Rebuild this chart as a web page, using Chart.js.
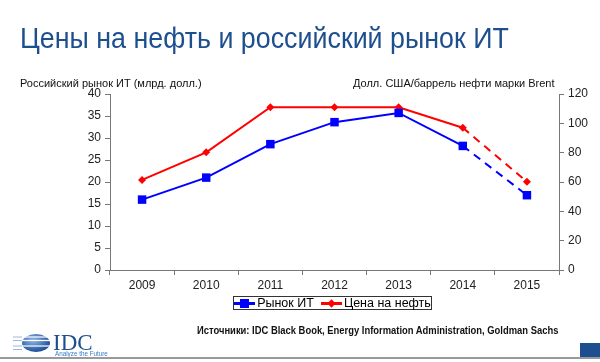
<!DOCTYPE html>
<html>
<head>
<meta charset="utf-8">
<script src="https://cdn.jsdelivr.net/npm/chart.js@4"></script>
<style>
  html, body { margin: 0; padding: 0; background: #fff; }
  #wrap { position: relative; width: 600px; height: 362px; overflow: hidden; font-family: "Liberation Sans", Arial, sans-serif; }
  #chart { position: absolute; left: 0; top: 0; }
  .txt { position: absolute; white-space: nowrap; color: #111; }
  #title { left: 20px; top: 22px; font-size: 29px; color: #1d4f8f; transform: scaleX(0.925); transform-origin: 0 0; }
  #ytitle { left: 20px; top: 77px; font-size: 11px; }
  #y1title { left: 353px; top: 77px; font-size: 11px; }
  #legend { position: absolute; left: 233px; top: 296px; width: 197px; height: 12px; border: 1px solid #333;
            font-size: 12.5px; display: flex; align-items: center; justify-content: center; gap: 7px; }
  .item { display: flex; align-items: center; gap: 2px; }
  .swatch { position: relative; width: 21px; height: 3px; }
  .mark { position: absolute; left: 6px; top: -3px; width: 9px; height: 9px; }
  #source { left: 197px; top: 325px; font-size: 10px; font-weight: bold; transform: scaleX(0.94); transform-origin: 0 0; }
  #logo { position: absolute; left: 0; top: 325px; }
  #bottomline { position: absolute; left: 0; top: 357px; width: 600px; height: 2px; background: #999; }
  #bluebox { position: absolute; left: 580px; top: 343px; width: 20px; height: 14px; background: #1d4f8f; }
</style>
</head>
<body>
<div id="wrap">
  <canvas id="chart" width="600" height="362"></canvas>
  <div class="txt" id="title">Цены на нефть и российский рынок ИТ</div>
  <div class="txt" id="ytitle">Российский рынок ИТ (млрд. долл.)</div>
  <div class="txt" id="y1title">Долл. США/баррель нефти марки Brent</div>
  <div id="legend"></div>
  <div class="txt" id="source">Источники: IDC Black Book, Energy Information Administration, Goldman Sachs</div>
  <svg id="logo" width="130" height="34">
    <defs>
      <radialGradient id="g" cx="0.4" cy="0.35" r="0.75">
        <stop offset="0" stop-color="#8fb8e6"/>
        <stop offset="1" stop-color="#0b3d8c"/>
      </radialGradient>
    </defs>
    <ellipse cx="36" cy="18" rx="14" ry="9" fill="url(#g)"/>
    <g stroke="#fff" stroke-width="1.2">
      <line x1="20" y1="12" x2="52" y2="12"/>
      <line x1="20" y1="15.5" x2="52" y2="15.5"/>
      <line x1="20" y1="21" x2="52" y2="21"/>
    </g>
    <g stroke="#9ab8de" stroke-width="1">
      <line x1="13" y1="12" x2="22" y2="12"/>
      <line x1="13" y1="15.5" x2="22" y2="15.5"/>
      <line x1="13" y1="21" x2="22" y2="21"/>
      <line x1="13" y1="24.5" x2="22" y2="24.5"/>
    </g>
    <text x="53" y="25" font-family="Liberation Serif, serif" font-size="23" fill="#1d4f8f">IDC</text>
    <text x="55" y="31" font-family="Liberation Sans, sans-serif" font-size="6.3" fill="#3a78c2">Analyze the Future</text>
  </svg>
  <div id="bottomline"></div>
  <div id="bluebox"></div>
</div>
<script>
const years = ["2009", "2010", "2011", "2012", "2013", "2014", "2015"];
const itMarket = [16, 21, 28.6, 33.6, 35.7, 28.2, 17];
const oilPrice = [61.4, 80.2, 111, 111, 111, 97, 60.2];
const leftTicks = [0, 5, 10, 15, 20, 25, 30, 35, 40];
const rightTicks = [0, 20, 40, 60, 80, 100, 120];
const forecastFrom = years.indexOf("2014");

const seriesNames = ["Рынок ИТ", "Цена на нефть"];
const seriesColors = ["#0000ff", "#ff0000"];

const dashed = ctx => ctx.p0DataIndex >= forecastFrom ? [8, 6] : undefined;
const tickFont = { family: "Liberation Sans, Arial, sans-serif", size: 12 };

// legend as html
const legend = document.getElementById("legend");
seriesNames.forEach((name, i) => {
  const item = document.createElement("div");
  item.className = "item";
  const sw = document.createElement("div");
  sw.className = "swatch";
  sw.style.background = seriesColors[i];
  const mk = document.createElement("div");
  mk.className = "mark";
  mk.style.background = seriesColors[i];
  if (i === 1) { mk.style.transform = "rotate(45deg) scale(0.65)"; }
  sw.appendChild(mk);
  item.appendChild(sw);
  item.appendChild(document.createTextNode(name));
  legend.appendChild(item);
});

new Chart(document.getElementById("chart"), {
  type: "line",
  data: {
    labels: years,
    datasets: [
      {
        label: seriesNames[0],
        data: itMarket,
        yAxisID: "y",
        borderColor: seriesColors[0],
        backgroundColor: seriesColors[0],
        borderWidth: 2,
        pointStyle: "rect",
        pointRadius: 6,
        pointBorderWidth: 0,
        segment: { borderDash: dashed }
      },
      {
        label: seriesNames[1],
        data: oilPrice,
        yAxisID: "y1",
        borderColor: seriesColors[1],
        backgroundColor: seriesColors[1],
        borderWidth: 2,
        pointStyle: "rectRot",
        pointRadius: 4,
        pointBorderWidth: 0,
        segment: { borderDash: dashed }
      }
    ]
  },
  options: {
    responsive: false,
    animation: false,
    layout: { padding: { top: 94, left: 0, right: 0, bottom: 0 } },
    plugins: { legend: { display: false }, tooltip: { enabled: false } },
    scales: {
      x: {
        offset: true,
        grid: { offset: true, drawOnChartArea: false, tickLength: 5, color: "#777" },
        border: { color: "#777" },
        ticks: { color: "#222", font: tickFont, padding: 3, maxRotation: 0 },
        afterFit: s => { s.height = 92; }
      },
      y: {
        position: "left",
        min: 0,
        max: 40,
        afterBuildTicks: s => { s.ticks = leftTicks.map(v => ({ value: v })); },
        grid: { drawOnChartArea: false, tickLength: 5, color: "#777" },
        border: { color: "#777" },
        ticks: { color: "#222", font: tickFont, padding: 4 },
        afterFit: s => { s.width = 110; }
      },
      y1: {
        position: "right",
        min: 0,
        max: 120,
        afterBuildTicks: s => { s.ticks = rightTicks.map(v => ({ value: v })); },
        grid: { drawOnChartArea: false, tickLength: 5, color: "#777" },
        border: { color: "#777" },
        ticks: { color: "#222", font: tickFont, padding: 4 },
        afterFit: s => { s.width = 41; }
      }
    }
  }
});
</script>
</body>
</html>
